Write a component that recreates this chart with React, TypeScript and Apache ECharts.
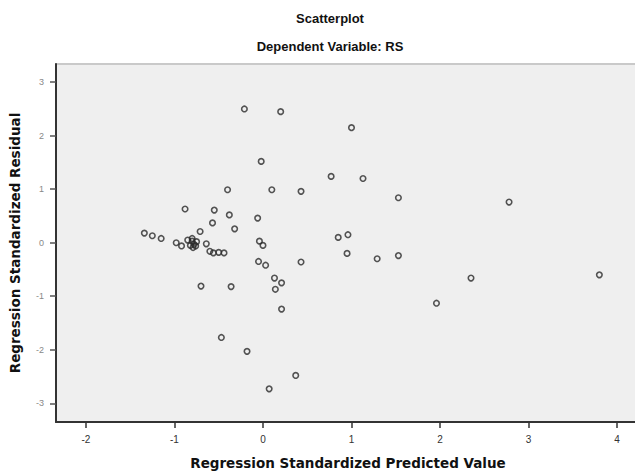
import React, { useEffect, useRef } from "react";
import * as echarts from "echarts";

const predicted = [
  -0.21, 0.2, 1.0, -0.02, 0.77, 1.13, -0.4, 0.1, 0.43, 1.53, 2.78, -0.88, -0.55, -0.38, -0.06,
  -0.57, -0.32, -0.71, -1.34, -1.25, -1.15, -0.98, -0.92, -0.85, -0.8, -0.78, -0.82, -0.76, -0.8,
  -0.79, -0.75, -0.64, -0.6, -0.56, -0.5, -0.44, -0.04, 0.0, -0.05, 0.03, 0.43, 0.85, 0.96, 0.95,
  1.29, 1.53, 0.13, 0.21, 0.14, -0.7, -0.36, 0.21, 1.96, 2.35, 3.8, -0.47, -0.18, 0.37, 0.07,
];
const residual = [
  2.5, 2.45, 2.15, 1.52, 1.24, 1.2, 0.99, 0.99, 0.96, 0.84, 0.76, 0.63, 0.61, 0.52, 0.46, 0.37,
  0.26, 0.21, 0.18, 0.13, 0.08, 0.0, -0.06, 0.05, 0.03, -0.03, -0.05, -0.06, 0.08, -0.09, 0.02,
  -0.02, -0.16, -0.19, -0.18, -0.19, 0.03, -0.05, -0.35, -0.42, -0.36, 0.1, 0.15, -0.2, -0.3,
  -0.24, -0.66, -0.75, -0.87, -0.81, -0.82, -1.24, -1.13, -0.66, -0.6, -1.77, -2.03, -2.48, -2.73,
];
const xTicks = [-2, -1, 0, 1, 2, 3, 4];
const yTicks = [-3, -2, -1, 0, 1, 2, 3];

const titleText = "Scatterplot";
const subtitleText = "Dependent Variable: RS";
const xName = "Regression Standardized Predicted Value";
const yName = "Regression Standardized Residual";

export default function App() {
  const ref = useRef<HTMLDivElement>(null);
  useEffect(() => {
    if (!ref.current) return;
    const chart = echarts.init(ref.current, null, { renderer: "svg" });
    const font = "'Liberation Sans', Arial, sans-serif";
    const wide = "'DejaVu Sans', 'Liberation Sans', sans-serif";
    chart.setOption({
      animation: false,
      backgroundColor: "#ffffff",
      textStyle: { fontFamily: font },
      title: [
        {
          text: titleText,
          left: 325,
          top: 7,
          textAlign: "center",
          textStyle: { fontSize: 13, fontWeight: "bold", color: "#111", fontFamily: font },
        },
        {
          text: subtitleText,
          left: 325,
          top: 35,
          textAlign: "center",
          textStyle: { fontSize: 13, fontWeight: "bold", color: "#111", fontFamily: font },
        },
      ],
      grid: {
        left: 54,
        right: 0,
        top: 64,
        bottom: 43,
        show: true,
        backgroundColor: "#efefef",
        borderColor: "#c9c9c9",
        borderWidth: 2,
      },
      xAxis: {
        type: "value",
        min: -2.338,
        max: 4.259,
        name: xName,
        nameLocation: "middle",
        nameGap: 34,
        nameTextStyle: { fontSize: 13.5, fontWeight: "bold", color: "#111", fontFamily: wide },
        axisLine: { show: true, onZero: false, lineStyle: { color: "#333", width: 2 } },
        axisTick: { show: true, length: 6, lineStyle: { color: "#333", width: 1.5 }, customValues: xTicks },
        axisLabel: { fontSize: 10, color: "#333", margin: 12, customValues: xTicks, fontFamily: font },
        splitLine: { show: false },
      },
      yAxis: {
        type: "value",
        min: -3.35,
        max: 3.34,
        name: yName,
        nameLocation: "middle",
        nameGap: 34,
        nameTextStyle: { fontSize: 13.5, fontWeight: "bold", color: "#111", fontFamily: wide },
        axisLine: { show: true, onZero: false, lineStyle: { color: "#333", width: 2 } },
        axisTick: { show: true, length: 6, lineStyle: { color: "#555", width: 1.5 }, customValues: yTicks },
        axisLabel: { fontSize: 9, color: "#888", margin: 12, customValues: yTicks, fontFamily: font },
        splitLine: { show: false },
      },
      series: [
        {
          type: "scatter",
          symbol: "circle",
          symbolSize: 5.5,
          data: predicted.map((x, i) => [x, residual[i]]),
          itemStyle: { color: "rgba(0,0,0,0)", borderColor: "#2a2a2a", borderWidth: 1.6 },
        },
      ],
    });
    return () => chart.dispose();
  }, []);
  return (
    <div
      ref={ref}
      style={{ position: "absolute", left: 0, top: 0, width: 640, height: 475 }}
    />
  );
}
